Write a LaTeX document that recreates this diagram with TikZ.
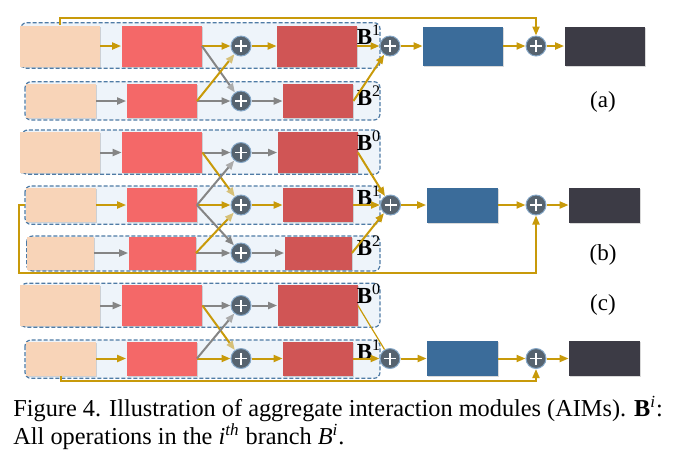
\documentclass[tikz,border=0pt]{standalone}
\usepackage{fontspec}
\setmainfont{Liberation Serif}
\usetikzlibrary{arrows.meta,shadows}
\definecolor{peach}{HTML}{F8D4B8}
\definecolor{redbox}{HTML}{F46868}
\definecolor{darkred}{HTML}{D05555}
\definecolor{bluebox}{HTML}{3B6C9A}
\definecolor{darkbox}{HTML}{3C3B45}
\definecolor{plusgray}{HTML}{56636F}
\definecolor{plusrim}{HTML}{86A8C8}
\definecolor{gold}{HTML}{C89A0A}
\definecolor{goldlt}{HTML}{D6C078}
\definecolor{arrgray}{HTML}{858585}
\definecolor{graylt}{HTML}{ABABAB}
\definecolor{framebl}{HTML}{4F7BA5}
\definecolor{framefill}{HTML}{EEF4FA}
\tikzset{
  box/.style={draw=none, inner sep=0pt, drop shadow={shadow xshift=0.7pt, shadow yshift=-0.7pt, opacity=0.3}},
  big/.style={minimum width=40pt, minimum height=20.5pt},
  mid/.style={minimum width=35pt, minimum height=17pt},
  sml/.style={minimum width=33.5pt, minimum height=16.5pt},
  wide/.style={minimum width=40pt, minimum height=19.5pt},
  narrow/.style={minimum width=35.5pt, minimum height=17.5pt},
  pch/.style={box, fill=peach},
  rd/.style={box, fill=redbox},
  drd/.style={box, fill=darkred},
  blu/.style={box, fill=bluebox},
  drk/.style={box, fill=darkbox},
  pls/.style={circle, fill=plusgray, draw=plusrim, line width=0.5pt, minimum size=10pt, inner sep=0pt,
    path picture={\draw[white, line width=0.6pt]
      ([xshift=-3pt]path picture bounding box.center) -- ([xshift=3pt]path picture bounding box.center)
      ([yshift=-3pt]path picture bounding box.center) -- ([yshift=3pt]path picture bounding box.center);}},
  au/.style={draw=gold, line width=1pt, -{Triangle[length=4.5pt,width=3.5pt]}},
  aul/.style={au, -{Triangle[length=4.5pt,width=3.5pt,color=goldlt]}},
  ag/.style={draw=arrgray, line width=1pt, -{Triangle[length=4.5pt,width=3.5pt]}},
  agl/.style={ag, -{Triangle[length=4.5pt,width=3.5pt,color=graylt]}},
  frame/.style={draw=framebl, fill=framefill, dash pattern=on 2pt off 1pt, rounded corners=3pt, line width=0.6pt},
  lbl/.style={font=\fontsize{11.5}{12}\selectfont, inner sep=0pt},
}
\begin{document}
\begin{tikzpicture}[x=0.5pt,y=-0.5pt]
    \useasboundingbox (0,0) rectangle (676,463);

    % (a)
    \draw[frame] (20.7,22.7) rectangle (380,68.3);
    \draw[frame] (25,81.7) rectangle (380,120);
    \node[pch,big] (pa1) at (60,46) {};
    \node[rd,big] (ra1) at (161.5,46) {};
    \node[pls] (sa1) at (241,46) {};
    \node[drd,big] (da1) at (317,46) {};
    \node[lbl] (la1) at (369,35) {\textbf{B}\textsuperscript{1}};
    \node[pch,mid] (pa2) at (61,101) {};
    \node[rd,mid] (ra2) at (161.5,101) {};
    \node[pls] (sa2) at (241,101) {};
    \node[drd,mid] (da2) at (318,101) {};
    \node[lbl] (la2) at (369,96) {\textbf{B}\textsuperscript{2}};
    \node[pls] (qa) at (390,46) {};
    \node[blu,wide] (ua) at (463,46) {};
    \node[pls] (ta) at (536,46) {};
    \node[drk,wide] (ka) at (604.5,46) {};
    \node[lbl] (capa) at (603,102) {(a)};

    \draw[au] (pa1) -- (ra1);
    \draw[au] (ra1) -- (sa1);
    \draw[au] (sa1) -- (da1);
    \draw[au] (da1) -- (qa);
    \draw[ag] (pa2) -- (ra2);
    \draw[ag] (ra2) -- (sa2);
    \draw[ag] (sa2) -- (da2);
    \draw[agl] (ra1.east) -- (sa2);
    \draw[aul] (ra2.east) -- (sa1);
    \draw[au] (da2.east) -- (qa);
    \draw[au] (qa) -- (ua);
    \draw[au] (ua) -- (ta);
    \draw[au] (ta) -- (ka);
    \draw[au] (pa1.north) -- ++(0,-7) -| (ta);

    % (b)
    \draw[frame] (21.7,130) rectangle (380,174.3);
    \draw[frame] (25,186) rectangle (380,224.3);
    \draw[frame] (26.7,236) rectangle (380,271);
    \node[pch,big] (pb0) at (60,152.5) {};
    \node[rd,big] (rb0) at (162,152.5) {};
    \node[pls] (sb0) at (241,152.5) {};
    \node[drd,big] (db0) at (317.5,152.5) {};
    \node[lbl] (lb0) at (369,141) {\textbf{B}\textsuperscript{0}};
    \node[pch,mid] (pb1) at (60.5,205) {};
    \node[rd,mid] (rb1) at (161.5,205) {};
    \node[pls] (sb1) at (241,205) {};
    \node[drd,mid] (db1) at (318,205) {};
    \node[lbl] (lb1) at (369,196) {\textbf{B}\textsuperscript{1}};
    \node[pch,sml] (pb2) at (60,253) {};
    \node[rd,sml] (rb2) at (162,253) {};
    \node[pls] (sb2) at (241,253) {};
    \node[drd,sml] (db2) at (318,253) {};
    \node[lbl] (lb2) at (369,246) {\textbf{B}\textsuperscript{2}};
    \node[pls] (qb) at (390.5,205) {};
    \node[blu,narrow] (ub) at (462,205) {};
    \node[pls] (tb) at (536,205) {};
    \node[drk,narrow] (kb) at (604.5,205) {};
    \node[lbl] (capb) at (603,255) {(b)};

    \draw[ag] (pb0) -- (rb0);
    \draw[ag] (rb0) -- (sb0);
    \draw[ag] (sb0) -- (db0);
    \draw[au] (pb1) -- (rb1);
    \draw[au] (rb1) -- (sb1);
    \draw[au] (sb1) -- (db1);
    \draw[ag] (pb2) -- (rb2);
    \draw[ag] (rb2) -- (sb2);
    \draw[ag] (sb2) -- (db2);
    \draw[aul] (rb0.east) -- (sb1);
    \draw[agl] (rb1.east) -- (sb0);
    \draw[ag] (rb1.east) -- (sb2);
    \draw[aul] (rb2.east) -- (sb1);
    \draw[au] (db0.east) -- (qb);
    \draw[au] (db1) -- (qb);
    \draw[au] (db2.east) -- (qb);
    \draw[au] (qb) -- (ub);
    \draw[au] (ub) -- (tb);
    \draw[au] (tb) -- (kb);
    \draw[au] (pb1.west) -- ++(-6,0) -- ++(0,68) -| (tb);

    % (c)
    \draw[frame] (20.7,283.3) rectangle (380,327.3);
    \draw[frame] (25,340) rectangle (380,378.3);
    \node[pch,big] (pc0) at (60,305.5) {};
    \node[rd,big] (rc0) at (162,305.5) {};
    \node[pls] (sc0) at (241,305.5) {};
    \node[drd,big] (dc0) at (317.5,305.5) {};
    \node[lbl] (lc0) at (369,294) {\textbf{B}\textsuperscript{0}};
    \node[pch,mid] (pc1) at (60.5,358.5) {};
    \node[rd,mid] (rc1) at (161.5,358.5) {};
    \node[pls] (sc1) at (241,358.5) {};
    \node[drd,mid] (dc1) at (318,358.5) {};
    \node[lbl] (lc1) at (369,350) {\textbf{B}\textsuperscript{1}};
    \node[pls] (qc) at (390,358.5) {};
    \node[blu,narrow] (uc) at (462.5,358.5) {};
    \node[pls] (tc) at (536,358.5) {};
    \node[drk,narrow] (kc) at (604.5,358.5) {};
    \node[lbl] (capc) at (603,305) {(c)};

    \draw[ag] (pc0) -- (rc0);
    \draw[ag] (rc0) -- (sc0);
    \draw[ag] (sc0) -- (dc0);
    \draw[au] (pc1) -- (rc1);
    \draw[au] (rc1) -- (sc1);
    \draw[au] (sc1) -- (dc1);
    \draw[aul] (rc0.east) -- (sc1);
    \draw[agl] (rc1.east) -- (sc0);
    \draw[gold, line width=0.6pt] (dc0.east) -- (qc);
    \draw[au] (dc1) -- (qc);
    \draw[au] (qc) -- (uc);
    \draw[au] (uc) -- (tc);
    \draw[au] (tc) -- (kc);
    \draw[au] (pc1.south) -- ++(0,5) -| (tc);

    % caption
    \node[anchor=north west, align=left, inner sep=0pt, font=\fontsize{12.15}{14}\selectfont] (fig) at (13,396)
      {Figure 4. Illustration of aggregate interaction modules (AIMs). \textbf{B}\textsuperscript{\textit{i}}:\\
       All operations in the \textit{i}\textsuperscript{\textit{th}} branch \textit{B}\textsuperscript{\textit{i}}.};
\end{tikzpicture}
\end{document}
